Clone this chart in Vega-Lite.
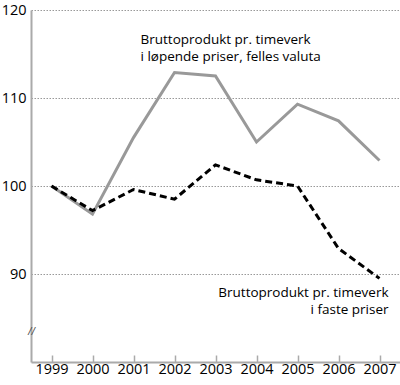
{
  "$schema": "https://vega.github.io/schema/vega-lite/v6.json",
  "width": 369,
  "height": 352,
  "autosize": "none",
  "padding": {"left": 31, "top": 10, "right": 0, "bottom": 23},
  "background": "white",
  "config": {"view": {"stroke": null}, "font": "Open Sans"},
  "datasets": {
    "series": [
      {"year": "1999", "series": "lop", "value": 100},
      {"year": "2000", "series": "lop", "value": 96.8},
      {"year": "2001", "series": "lop", "value": 105.5},
      {"year": "2002", "series": "lop", "value": 112.9},
      {"year": "2003", "series": "lop", "value": 112.5},
      {"year": "2004", "series": "lop", "value": 105.0},
      {"year": "2005", "series": "lop", "value": 109.3},
      {"year": "2006", "series": "lop", "value": 107.4},
      {"year": "2007", "series": "lop", "value": 102.9},
      {"year": "1999", "series": "fast", "value": 100},
      {"year": "2000", "series": "fast", "value": 97.2},
      {"year": "2001", "series": "fast", "value": 99.6},
      {"year": "2002", "series": "fast", "value": 98.5},
      {"year": "2003", "series": "fast", "value": 102.4},
      {"year": "2004", "series": "fast", "value": 100.7},
      {"year": "2005", "series": "fast", "value": 100.0},
      {"year": "2006", "series": "fast", "value": 92.9},
      {"year": "2007", "series": "fast", "value": 89.5}
    ],
    "labels": [
      {"year": "2001", "value": 116.6, "text": ["Bruttoprodukt pr. timeverk", "i løpende priser, felles valuta"], "align": "left"},
      {"year": "2007", "value": 87.8, "text": ["Bruttoprodukt pr. timeverk", "i faste priser"], "align": "right"}
    ],
    "brk": [{"year": "1999", "value": 83.4, "text": "//"}]
  },
  "layer": [
    {
      "data": {"name": "series"},
      "transform": [{"filter": "datum.series === 'lop'"}],
      "mark": {"type": "line", "color": "#999999", "strokeWidth": 3},
      "encoding": {
        "x": {"field": "year", "type": "ordinal", "scale": {"type": "point", "padding": 0.5},
          "axis": {"title": null, "labelAngle": 0, "labelFontSize": 14.5, "labelColor": "#000", "domainColor": "#aaaaaa", "domainWidth": 2, "tickColor": "#aaaaaa", "tickWidth": 1.5, "tickSize": -7, "labelPadding": 7, "grid": false}},
        "y": {"field": "value", "type": "quantitative", "scale": {"domain": [80, 120], "nice": false, "zero": false},
          "axis": {"title": null, "values": [90, 100, 110, 120], "labelFontSize": 14.5, "labelColor": "#000", "domainColor": "#aaaaaa", "domainWidth": 2, "ticks": false, "labelPadding": 5, "grid": true, "gridColor": "#999999", "gridDash": [1.5, 1.5], "gridWidth": 1}}
      }
    },
    {
      "data": {"name": "series"},
      "transform": [{"filter": "datum.series === 'fast'"}],
      "mark": {"type": "line", "color": "#000000", "strokeWidth": 3, "strokeDash": [7, 4]},
      "encoding": {
        "x": {"field": "year", "type": "ordinal"},
        "y": {"field": "value", "type": "quantitative"}
      }
    },
    {
      "data": {"name": "labels"},
      "transform": [{"filter": "datum.align === 'left'"}],
      "mark": {"type": "text", "align": "left", "baseline": "middle", "fontSize": 13.5, "lineHeight": 17, "dx": 7, "color": "#000"},
      "encoding": {
        "x": {"field": "year", "type": "ordinal"},
        "y": {"field": "value", "type": "quantitative"},
        "text": {"field": "text"}
      }
    },
    {
      "data": {"name": "labels"},
      "transform": [{"filter": "datum.align === 'right'"}],
      "mark": {"type": "text", "align": "right", "baseline": "middle", "fontSize": 13.5, "lineHeight": 17, "dx": 9, "color": "#000"},
      "encoding": {
        "x": {"field": "year", "type": "ordinal"},
        "y": {"field": "value", "type": "quantitative"},
        "text": {"field": "text"}
      }
    },
    {
      "data": {"name": "brk"},
      "mark": {"type": "text", "align": "center", "baseline": "middle", "fontSize": 10, "dx": -20, "color": "#444444", "fontStyle": "italic"},
      "encoding": {
        "x": {"field": "year", "type": "ordinal"},
        "y": {"field": "value", "type": "quantitative"},
        "text": {"field": "text"}
      }
    }
  ]
}
